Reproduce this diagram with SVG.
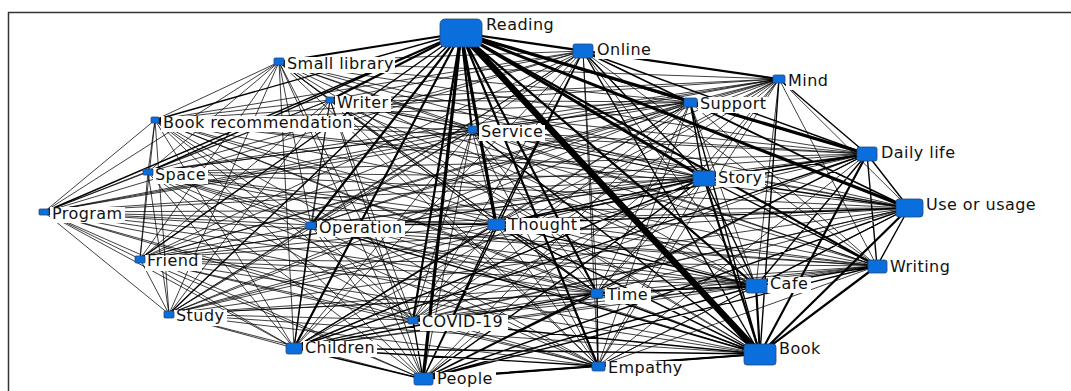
<svg xmlns="http://www.w3.org/2000/svg" width="1071" height="391" viewBox="0 0 1071 391">
<style>
.e{fill:none;stroke:#000;stroke-linecap:round}
.a{stroke-width:0.75}.b{stroke-width:1.4}.c{stroke-width:2.2}.d{stroke-width:3.2}.x{stroke-width:6.5}
.n{fill:#0a6fdc;stroke:#24467a;stroke-width:0.8}
.lb{fill:#fff}
.t{font-family:"DejaVu Sans","Verdana",sans-serif;font-size:16px;letter-spacing:0.45px;fill:#111}
</style>
<rect x="0" y="0" width="1071" height="391" fill="#fff"/>
<rect x="8.5" y="12.5" width="1070" height="390" fill="none" stroke="#333" stroke-width="1.5"/>
<g id="connectors">
<path class="e a" d="M583 51L279 62M583 51L330 100M583 51L155 120M583 51L148 172M583 51L472 130M583 51L690 102M583 51L779 79M583 51L877 266M583 51L756 286M583 51L44 212M583 51L140 259M583 51L169 314M583 51L294 348M583 51L311 225M583 51L597 293M583 51L413 320M583 51L598 366
M279 62L330 100M279 62L155 120M279 62L148 172M279 62L472 130M279 62L690 102M279 62L779 79M279 62L867 154M279 62L704 178M279 62L909 208M279 62L877 266M279 62L756 286M279 62L44 212M279 62L140 259M279 62L169 314M279 62L294 348M279 62L311 225M279 62L496 224M279 62L597 293M279 62L413 320M279 62L598 366M279 62L423 379
M330 100L155 120M330 100L148 172M330 100L472 130M330 100L690 102M330 100L779 79M330 100L867 154M330 100L704 178M330 100L909 208M330 100L877 266M330 100L756 286M330 100L44 212M330 100L140 259M330 100L169 314M330 100L294 348M330 100L311 225M330 100L496 224M330 100L597 293M330 100L413 320M330 100L598 366M330 100L423 379
M155 120L148 172M155 120L472 130M155 120L690 102M155 120L779 79M155 120L867 154M155 120L704 178M155 120L909 208M155 120L877 266M155 120L756 286M155 120L44 212M155 120L140 259M155 120L169 314M155 120L294 348M155 120L311 225M155 120L496 224M155 120L597 293M155 120L413 320M155 120L598 366M155 120L423 379
M148 172L472 130M148 172L690 102M148 172L779 79M148 172L867 154M148 172L704 178M148 172L909 208M148 172L877 266M148 172L756 286M148 172L44 212M148 172L140 259M148 172L169 314M148 172L294 348M148 172L311 225M148 172L496 224M148 172L597 293M148 172L413 320M148 172L598 366M148 172L423 379
M472 130L690 102M472 130L779 79M472 130L867 154M472 130L704 178M472 130L909 208M472 130L877 266M472 130L756 286M472 130L44 212M472 130L140 259M472 130L169 314M472 130L294 348M472 130L311 225M472 130L496 224M472 130L597 293M472 130L413 320M472 130L598 366M472 130L423 379
M690 102L779 79M690 102L877 266M690 102L756 286M690 102L44 212M690 102L140 259M690 102L169 314M690 102L294 348M690 102L311 225M690 102L496 224M690 102L597 293M690 102L413 320M690 102L598 366M690 102L423 379
M779 79L704 178M779 79L909 208M779 79L877 266M779 79L756 286M779 79L44 212M779 79L140 259M779 79L169 314M779 79L294 348M779 79L311 225M779 79L496 224M779 79L597 293M779 79L413 320M779 79L598 366M779 79L423 379
M867 154L44 212M867 154L140 259M867 154L169 314M867 154L311 225M867 154L597 293M867 154L413 320M867 154L598 366
M704 178L44 212M704 178L140 259M704 178L169 314M704 178L311 225M704 178L597 293M704 178L413 320M704 178L598 366
M909 208L44 212M909 208L140 259M909 208L169 314M909 208L294 348M909 208L311 225M909 208L597 293M909 208L413 320M909 208L598 366
M877 266L44 212M877 266L140 259M877 266L169 314M877 266L294 348M877 266L311 225M877 266L496 224M877 266L597 293M877 266L413 320M877 266L598 366
M756 286L44 212M756 286L140 259M756 286L169 314M756 286L294 348M756 286L311 225M756 286L413 320M756 286L598 366
M760 354L279 62M760 354L330 100M760 354L155 120M760 354L148 172M760 354L44 212M760 354L140 259M760 354L169 314
M44 212L140 259M44 212L169 314M44 212L294 348M44 212L311 225M44 212L496 224M44 212L597 293M44 212L413 320M44 212L598 366M44 212L423 379
M140 259L169 314M140 259L294 348M140 259L311 225M140 259L496 224M140 259L597 293M140 259L413 320M140 259L598 366M140 259L423 379
M169 314L294 348M169 314L311 225M169 314L496 224M169 314L597 293M169 314L413 320M169 314L598 366M169 314L423 379
M294 348L413 320M311 225L597 293M311 225L413 320M311 225L598 366M311 225L423 379M496 224L413 320M496 224L598 366M597 293L413 320M413 320L598 366"/>
<path class="e b" d="M461 33L155 120M461 33L148 172M461 33L140 259M461 33L169 314M461 33L44 212
M760 354L496 224M760 354L597 293M760 354L598 366M760 354L294 348M760 354L413 320M760 354L690 102M760 354L779 79M760 354L583 51M760 354L311 225M760 354L472 130
M583 51L867 154M583 51L704 178M583 51L909 208M583 51L496 224M583 51L423 379
M690 102L867 154M690 102L704 178M690 102L909 208M779 79L867 154
M867 154L704 178M867 154L909 208M867 154L877 266M867 154L756 286M867 154L294 348M867 154L496 224M867 154L423 379
M704 178L909 208M704 178L877 266M704 178L756 286M704 178L294 348M704 178L496 224M704 178L423 379
M909 208L877 266M909 208L756 286M909 208L496 224M909 208L423 379
M877 266L756 286M877 266L423 379M756 286L496 224M756 286L597 293M756 286L423 379
M294 348L311 225M294 348L496 224M294 348L597 293M294 348L598 366M294 348L423 379
M311 225L496 224M496 224L597 293M496 224L423 379M597 293L598 366M597 293L423 379M413 320L423 379M598 366L423 379"/>
<path class="e c" d="M461 33L690 102M461 33L877 266M461 33L294 348M461 33L413 320M461 33L756 286M461 33L597 293M461 33L311 225M461 33L472 130M461 33L583 51M461 33L598 366M461 33L779 79M461 33L279 62M461 33L330 100
M760 354L867 154M760 354L909 208M760 354L704 178M760 354L877 266M760 354L756 286M760 354L423 379"/>
<path class="e d" d="M461 33L704 178M461 33L423 379M461 33L496 224M461 33L909 208M461 33L867 154"/>
<path class="e x" d="M461 33L760 354"/>
</g>
<g id="node-reading"><rect class="lb" x="484" y="18" width="74" height="16"/><rect class="n" x="440" y="19" width="42" height="28" rx="5"/><text class="t" x="486" y="30">Reading</text></g>
<g id="node-online"><rect class="lb" x="595" y="43" width="59" height="16"/><rect class="n" x="573" y="44" width="20" height="14" rx="2"/><text class="t" x="597" y="55">Online</text></g>
<g id="node-small-library"><rect class="lb" x="285" y="57" width="110" height="16"/><rect class="n" x="274" y="58" width="10" height="7" rx="1"/><text class="t" x="287" y="69">Small library</text></g>
<g id="node-writer"><rect class="lb" x="335" y="96" width="56" height="16"/><rect class="n" x="326" y="97" width="8" height="6" rx="1"/><text class="t" x="337" y="108">Writer</text></g>
<g id="node-book-recommendation"><rect class="lb" x="161" y="116" width="193" height="16"/><rect class="n" x="151" y="117" width="8" height="6" rx="1"/><text class="t" x="163" y="128">Book recommendation</text></g>
<g id="node-space"><rect class="lb" x="153" y="168" width="55" height="16"/><rect class="n" x="143" y="169" width="10" height="6" rx="1"/><text class="t" x="155" y="180">Space</text></g>
<g id="node-service"><rect class="lb" x="479" y="125" width="66" height="16"/><rect class="n" x="468" y="126" width="9" height="7" rx="1"/><text class="t" x="481" y="137">Service</text></g>
<g id="node-support"><rect class="lb" x="698" y="97" width="70" height="16"/><rect class="n" x="684" y="98" width="13" height="9" rx="1.5"/><text class="t" x="700" y="109">Support</text></g>
<g id="node-mind"><rect class="lb" x="786" y="74" width="45" height="16"/><rect class="n" x="773" y="75" width="12" height="8" rx="1.5"/><text class="t" x="788" y="86">Mind</text></g>
<g id="node-daily-life"><rect class="lb" x="879" y="146" width="78" height="16"/><rect class="n" x="857" y="147" width="20" height="14" rx="2"/><text class="t" x="881" y="158">Daily life</text></g>
<g id="node-story"><rect class="lb" x="716" y="171" width="49" height="16"/><rect class="n" x="693" y="171" width="22" height="15" rx="2"/><text class="t" x="718" y="183">Story</text></g>
<g id="node-use-or-usage"><rect class="lb" x="924" y="198" width="114" height="16"/><rect class="n" x="896" y="199" width="27" height="18" rx="3"/><text class="t" x="926" y="210">Use or usage</text></g>
<g id="node-writing"><rect class="lb" x="888" y="259" width="65" height="16"/><rect class="n" x="868" y="260" width="19" height="13" rx="2"/><text class="t" x="890" y="272">Writing</text></g>
<g id="node-cafe"><rect class="lb" x="768" y="277" width="43" height="16"/><rect class="n" x="746" y="279" width="21" height="14" rx="2"/><text class="t" x="770" y="289">Cafe</text></g>
<g id="node-book"><rect class="lb" x="777" y="342" width="46" height="16"/><rect class="n" x="744" y="344" width="32" height="21" rx="3"/><text class="t" x="779" y="354">Book</text></g>
<g id="node-program"><rect class="lb" x="50" y="207" width="75" height="16"/><rect class="n" x="39" y="209" width="10" height="6" rx="1"/><text class="t" x="52" y="219">Program</text></g>
<g id="node-friend"><rect class="lb" x="145" y="255" width="57" height="16"/><rect class="n" x="135" y="256" width="10" height="7" rx="1"/><text class="t" x="147" y="266">Friend</text></g>
<g id="node-study"><rect class="lb" x="174" y="310" width="53" height="16"/><rect class="n" x="164" y="311" width="10" height="7" rx="1"/><text class="t" x="176" y="321">Study</text></g>
<g id="node-children"><rect class="lb" x="303" y="341" width="74" height="16"/><rect class="n" x="286" y="343" width="16" height="11" rx="2"/><text class="t" x="305" y="353">Children</text></g>
<g id="node-operation"><rect class="lb" x="317" y="221" width="88" height="16"/><rect class="n" x="306" y="222" width="10" height="7" rx="1"/><text class="t" x="319" y="233">Operation</text></g>
<g id="node-thought"><rect class="lb" x="506" y="218" width="74" height="16"/><rect class="n" x="488" y="219" width="17" height="11" rx="2"/><text class="t" x="508" y="230">Thought</text></g>
<g id="node-time"><rect class="lb" x="605" y="288" width="46" height="16"/><rect class="n" x="591" y="289" width="12" height="9" rx="1.5"/><text class="t" x="607" y="300">Time</text></g>
<g id="node-covid-19"><rect class="lb" x="420" y="315" width="88" height="16"/><rect class="n" x="408" y="317" width="10" height="7" rx="1"/><text class="t" x="422" y="327">COVID-19</text></g>
<g id="node-empathy"><rect class="lb" x="606" y="361" width="79" height="17"/><rect class="n" x="592" y="362" width="13" height="9" rx="1.5"/><text class="t" x="608" y="373">Empathy</text></g>
<g id="node-people"><rect class="lb" x="435" y="372" width="61" height="17"/><rect class="n" x="414" y="373" width="19" height="12" rx="2"/><text class="t" x="437" y="384">People</text></g>
</svg>
